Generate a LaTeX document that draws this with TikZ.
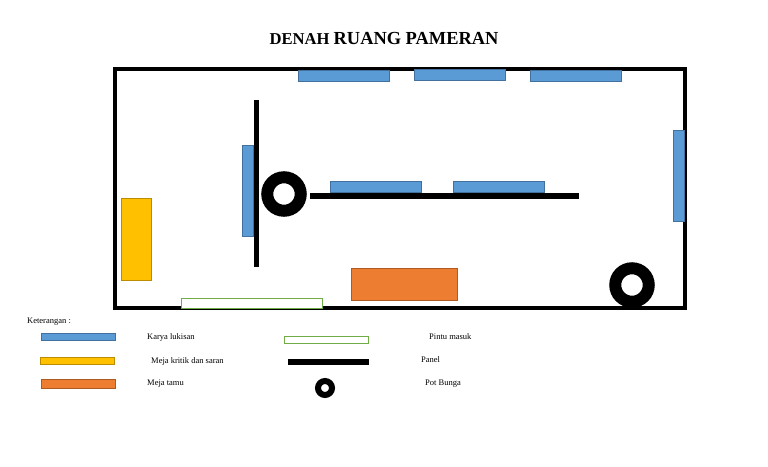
\documentclass[tikz,border=0pt]{standalone}
\usepackage{fontspec}
\setmainfont{Liberation Serif}
\definecolor{biru}{HTML}{5B9BD5}
\definecolor{birutua}{HTML}{41719C}
\definecolor{kuning}{HTML}{FFC000}
\definecolor{kuningtua}{HTML}{BC8C00}
\definecolor{oranye}{HTML}{ED7D31}
\definecolor{oranyetua}{HTML}{AE5A21}
\definecolor{hijau}{HTML}{70AD47}
\tikzset{
  karyah/.style={draw=birutua, fill=biru, line width=0.6pt, inner sep=0pt, minimum width=91.4pt, minimum height=11.4pt},
  karyav/.style={draw=birutua, fill=biru, line width=0.6pt, inner sep=0pt, minimum width=11.4pt, minimum height=91.4pt},
  kritik/.style={draw=kuningtua, fill=kuning, line width=0.6pt, inner sep=0pt},
  tamu/.style={draw=oranyetua, fill=oranye, line width=0.6pt, inner sep=0pt},
  pintu/.style={draw=hijau, fill=white, line width=0.8pt, inner sep=0pt},
  panel/.style={fill=black, inner sep=0pt},
  pot/.style={draw=black, fill=white, circle, inner sep=0pt, line width=12pt, minimum size=33.5pt},
  potkecil/.style={draw=black, fill=white, circle, inner sep=0pt, line width=6pt, minimum size=14pt},
  ket/.style={anchor=west, inner sep=0pt, font=\fontsize{8.5}{10}\selectfont}
}
\begin{document}
\begin{tikzpicture}[x=1pt,y=-1pt]
\useasboundingbox (0,0) rectangle (768,466);
\node[inner sep=0pt, font=\bfseries] (judul) at (384,38.5) {\fontsize{16.6}{20}\selectfont DENAH \fontsize{18.4}{20}\selectfont RUANG PAMERAN};
% ruang
\node[draw=black, line width=4pt, inner sep=0pt, minimum width=570pt, minimum height=239pt] (ruang) at (399.7,188.5) {};
\node[karyah] (lukisanA) at (344,76) {};
\node[karyah] (lukisanB) at (460,75) {};
\node[karyah] (lukisanC) at (576,76) {};
\node[karyav] (lukisanD) at (679,176) {};
\node[karyav] (lukisanE) at (248,191) {};
\node[karyah] (lukisanF) at (376,187) {};
\node[karyah] (lukisanG) at (499,187) {};
\node[panel, minimum width=5pt, minimum height=167pt] (panelA) at (256.5,183.5) {};
\node[panel, minimum width=269pt, minimum height=6pt] (panelB) at (444.5,196) {};
\node[pot] (potA) at (284,194) {};
\node[pot] (potB) at (632,285) {};
\node[kritik, minimum width=30pt, minimum height=82.4pt] (kritikA) at (136.7,239.5) {};
\node[tamu, minimum width=106.4pt, minimum height=32.4pt] (tamuA) at (404.5,284.5) {};
\node[pintu, minimum width=141.4pt, minimum height=10.4pt] (pintuA) at (252,303.5) {};
% keterangan
\node[ket] (keterangan) at (27,321.5) {Keterangan :};
\node[karyah, minimum width=74pt, minimum height=7.5pt] (lgKarya) at (78,337) {};
\node[kritik, minimum width=74.5pt, minimum height=7.5pt] (lgKritik) at (77.5,361) {};
\node[tamu, minimum width=74pt, minimum height=9.5pt] (lgTamu) at (78,384) {};
\node[pintu, minimum width=84.5pt, minimum height=7pt] (lgPintu) at (326.5,340) {};
\node[panel, minimum width=81pt, minimum height=6pt] (lgPanel) at (328.5,362) {};
\node[potkecil] (lgPot) at (325,388) {};
\node[ket] (txKarya) at (147,337) {Karya lukisan};
\node[ket] (txKritik) at (151,361) {Meja kritik dan saran};
\node[ket] (txTamu) at (147,384) {Meja tamu};
\node[ket] (txPintu) at (429,337) {Pintu masuk};
\node[ket] (txPanel) at (421,360) {Panel};
\node[ket] (txPot) at (425,384) {Pot Bunga};
\end{tikzpicture}
\end{document}
